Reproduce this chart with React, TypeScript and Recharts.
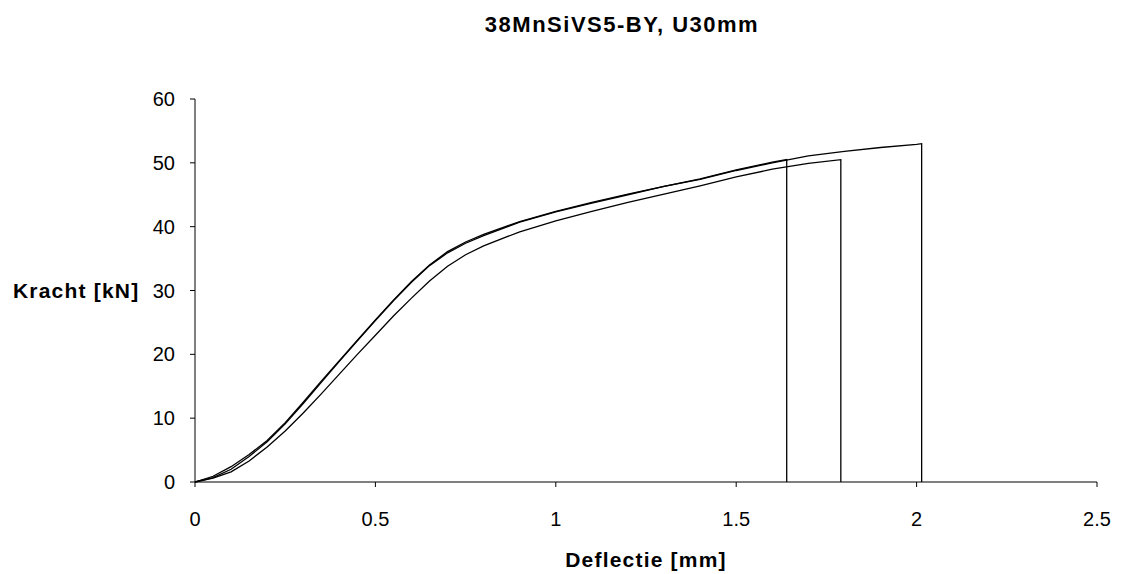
import { Label, Line, LineChart, XAxis, YAxis } from 'recharts';

const xTicks = [0, 0.5, 1, 1.5, 2, 2.5];
const yTicks = [0, 10, 20, 30, 40, 50, 60];

// deflection [mm] vs force [kN], three samples
const sample1 = [
  { x: 0, y: 0 }, { x: 0.05, y: 0.9 }, { x: 0.1, y: 2.4 }, { x: 0.15, y: 4.3 },
  { x: 0.2, y: 6.5 }, { x: 0.25, y: 9.3 }, { x: 0.3, y: 12.5 }, { x: 0.35, y: 15.8 },
  { x: 0.4, y: 19.0 }, { x: 0.45, y: 22.2 }, { x: 0.5, y: 25.4 }, { x: 0.55, y: 28.5 },
  { x: 0.6, y: 31.4 }, { x: 0.65, y: 34.0 }, { x: 0.7, y: 36.1 }, { x: 0.75, y: 37.6 },
  { x: 0.8, y: 38.8 }, { x: 0.9, y: 40.8 }, { x: 1.0, y: 42.4 }, { x: 1.1, y: 43.8 },
  { x: 1.2, y: 45.1 }, { x: 1.3, y: 46.3 }, { x: 1.4, y: 47.5 }, { x: 1.5, y: 48.9 },
  { x: 1.6, y: 50.1 }, { x: 1.64, y: 50.5 }, { x: 1.64, y: 0 }
];

const sample2 = [
  { x: 0, y: 0 }, { x: 0.05, y: 0.6 }, { x: 0.1, y: 1.6 }, { x: 0.15, y: 3.3 },
  { x: 0.2, y: 5.5 }, { x: 0.25, y: 8.0 }, { x: 0.3, y: 10.8 }, { x: 0.35, y: 13.8 },
  { x: 0.4, y: 16.9 }, { x: 0.45, y: 20.0 }, { x: 0.5, y: 23.0 }, { x: 0.55, y: 26.0 },
  { x: 0.6, y: 28.8 }, { x: 0.65, y: 31.5 }, { x: 0.7, y: 33.8 }, { x: 0.75, y: 35.6 },
  { x: 0.8, y: 37.0 }, { x: 0.9, y: 39.2 }, { x: 1.0, y: 40.9 }, { x: 1.1, y: 42.4 },
  { x: 1.2, y: 43.8 }, { x: 1.3, y: 45.1 }, { x: 1.4, y: 46.4 }, { x: 1.5, y: 47.8 },
  { x: 1.6, y: 49.0 }, { x: 1.7, y: 49.9 }, { x: 1.79, y: 50.5 }, { x: 1.79, y: 0 }
];

const sample3 = [
  { x: 0, y: 0 }, { x: 0.05, y: 0.7 }, { x: 0.1, y: 2.0 }, { x: 0.15, y: 4.0 },
  { x: 0.2, y: 6.3 }, { x: 0.25, y: 9.1 }, { x: 0.3, y: 12.3 }, { x: 0.35, y: 15.6 },
  { x: 0.4, y: 18.9 }, { x: 0.45, y: 22.1 }, { x: 0.5, y: 25.3 }, { x: 0.55, y: 28.4 },
  { x: 0.6, y: 31.3 }, { x: 0.65, y: 33.9 }, { x: 0.7, y: 35.9 }, { x: 0.75, y: 37.4 },
  { x: 0.8, y: 38.6 }, { x: 0.9, y: 40.7 }, { x: 1.0, y: 42.3 }, { x: 1.1, y: 43.7 },
  { x: 1.2, y: 45.0 }, { x: 1.3, y: 46.3 }, { x: 1.4, y: 47.4 }, { x: 1.5, y: 48.8 },
  { x: 1.6, y: 50.0 }, { x: 1.7, y: 51.1 }, { x: 1.8, y: 51.8 }, { x: 1.9, y: 52.4 },
  { x: 2.0, y: 52.9 }, { x: 2.014, y: 53.0 }, { x: 2.014, y: 0 }
];

const series = [sample1, sample2, sample3];

const font = "'Liberation Sans', Arial, sans-serif";
const tickStyle = { fontSize: 20, fill: '#000', fontFamily: font };
const labelStyle = { fontSize: 21, fontWeight: 'bold', fill: '#000', fontFamily: font, letterSpacing: 1.2 };

export default function App() {
  return (
    <div style={{ position: 'absolute', left: 0, top: 0, width: 1121, height: 574, background: '#fff' }}>
      <div
        style={{
          position: 'absolute',
          left: 0,
          width: 1244,
          top: 12,
          textAlign: 'center',
          fontFamily: font,
          fontWeight: 'bold',
          fontSize: 22,
          letterSpacing: 1.5
        }}
      >
        38MnSiVS5-BY, U30mm
      </div>
      <LineChart width={1121} height={574} margin={{ top: 99, right: 24, bottom: 0, left: 0 }}>
        <XAxis
          type='number'
          dataKey='x'
          domain={[0, 2.5]}
          ticks={xTicks}
          height={92}
          stroke='#000'
          tickSize={5}
          tickMargin={25}
          tick={tickStyle}
          allowDuplicatedCategory={false}
        >
          <Label value='Deflectie [mm]' position='insideBottom' offset={7} style={labelStyle} />
        </XAxis>
        <YAxis
          type='number'
          domain={[0, 60]}
          ticks={yTicks}
          width={195}
          stroke='#000'
          tickSize={5}
          tickMargin={15}
          tick={tickStyle}
        >
          <Label
            value='Kracht [kN]'
            position='insideLeft'
            offset={13}
            angle={0}
            style={{ ...labelStyle, textAnchor: 'start' }}
          />
        </YAxis>
        {series.map((d, i) => (
          <Line
            key={i}
            data={d}
            dataKey='y'
            type='linear'
            stroke='#000'
            strokeWidth={1.3}
            dot={false}
            activeDot={false}
            isAnimationActive={false}
          />
        ))}
      </LineChart>
    </div>
  );
}
